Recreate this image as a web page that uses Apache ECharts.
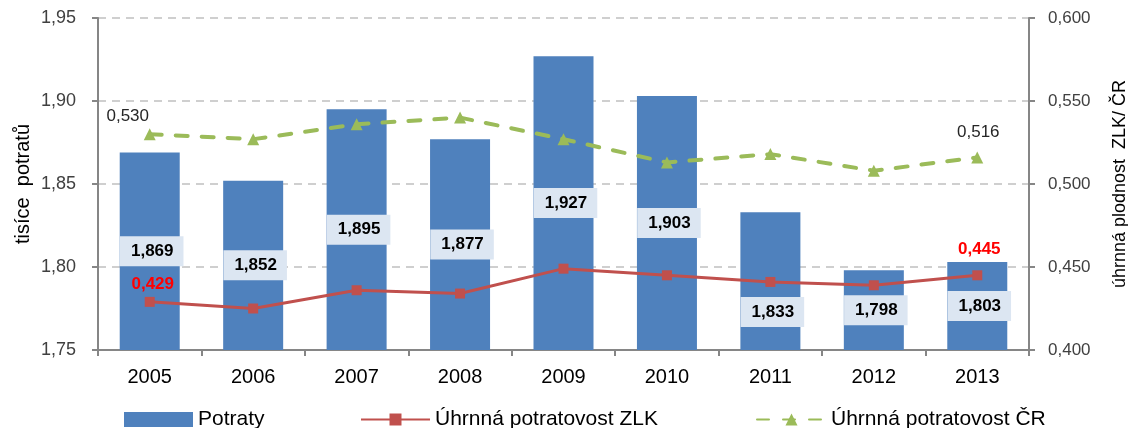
<!DOCTYPE html>
<html>
<head>
<meta charset="utf-8">
<script src="https://cdn.jsdelivr.net/npm/echarts@6/dist/echarts.min.js"></script>
<style>
html, body { margin: 0; padding: 0; background: #fff; }
#chart { width: 1128px; height: 428px; }
</style>
</head>
<body>
<div id="chart"></div>
<script>
var years = ['2005', '2006', '2007', '2008', '2009', '2010', '2011', '2012', '2013'];
var potraty = [1.869, 1.852, 1.895, 1.877, 1.927, 1.903, 1.833, 1.798, 1.803];
var potratovostZLK = [0.429, 0.425, 0.436, 0.434, 0.449, 0.445, 0.441, 0.439, 0.445];
var potratovostCR = [0.530, 0.527, 0.536, 0.540, 0.527, 0.513, 0.518, 0.508, 0.516];
var leftTicks = [1.75, 1.80, 1.85, 1.90, 1.95];
var rightTicks = [0.400, 0.450, 0.500, 0.550, 0.600];

var FONT = 'Liberation Sans, Arial, sans-serif';

function czech(v, d) {
	return v.toFixed(d).replace('.', ',');
}

// bar data: labels sit in the middle of the bar, 2011 moved lower
var barData = potraty.map(function (v, i) {
	var item = { value: v };
	if (i == 6) item.label = { offset: [2, 31] };
	return item;
});

// only first and last point of the lines carry a label
var zlkData = potratovostZLK.map(function (v, i) {
	var item = { value: v };
	if (i == 0) item.label = { show: true, distance: 4, offset: [3, 0] };
	if (i == potratovostZLK.length - 1) item.label = { show: true, distance: 12, offset: [2, 0] };
	return item;
});
var crData = potratovostCR.map(function (v, i) {
	var item = { value: v };
	if (i == 0) item.label = { show: true, distance: 3, offset: [-22, 0] };
	if (i == potratovostCR.length - 1) item.label = { show: true, distance: 11, offset: [1, 0] };
	return item;
});

var chart = echarts.init(document.getElementById('chart'));

var legendBase = {
	top: 404,
	itemWidth: 69,
	itemHeight: 15,
	itemGap: 8,
	textStyle: { fontFamily: FONT, fontSize: 21, color: '#000' }
};

var option = {
	animation: false,
	textStyle: { fontFamily: FONT },
	grid: { left: 98, right: 99, top: 18, bottom: 78, outerBoundsMode: 'none', containLabel: false },
	legend: [
		Object.assign({ data: ['Potraty'], left: 119, icon: 'rect' }, legendBase),
		Object.assign({ data: ['Úhrnná potratovost ZLK'], left: 355 }, legendBase),
		Object.assign({ data: ['Úhrnná potratovost ČR'], left: 751 }, legendBase)
	],
	xAxis: {
		type: 'category',
		data: years,
		axisLine: { lineStyle: { color: '#868686', width: 2 } },
		axisTick: { show: true, length: 6, lineStyle: { color: '#868686', width: 2 } },
		axisLabel: { margin: 17, fontSize: 20, color: '#000', fontFamily: FONT }
	},
	yAxis: [
		{
			type: 'value',
			min: leftTicks[0],
			max: leftTicks[leftTicks.length - 1],
			interval: 0.05,
			name: 'tisíce  potratů',
			nameLocation: 'middle',
			nameGap: 65,
			nameMoveOverlap: false,
			nameRotate: 90,
			nameTextStyle: { fontSize: 20, color: '#000', fontFamily: FONT },
			axisLine: { show: true, lineStyle: { color: '#868686', width: 2 } },
			axisTick: { show: true, length: 6, lineStyle: { color: '#868686', width: 2 } },
			axisLabel: {
				margin: 22, fontSize: 18, color: '#404040', fontFamily: FONT,
				formatter: function (v) { return czech(v, 2); }
			},
			splitLine: { lineStyle: { color: '#c0c0c0', width: 1.5, type: [8, 6] } }
		},
		{
			type: 'value',
			min: rightTicks[0],
			max: rightTicks[rightTicks.length - 1],
			interval: 0.05,
			name: 'úhrnná plodnost  ZLK/ ČR',
			nameLocation: 'middle',
			nameGap: 82,
			nameMoveOverlap: false,
			nameRotate: 90,
			nameTextStyle: { fontSize: 18, color: '#000', fontFamily: FONT },
			axisLine: { show: true, lineStyle: { color: '#868686', width: 2 } },
			axisTick: { show: true, length: 6, lineStyle: { color: '#868686', width: 2 } },
			axisLabel: {
				margin: 19, fontSize: 17, color: '#404040', fontFamily: FONT,
				formatter: function (v) { return czech(v, 3); }
			},
			splitLine: { show: false }
		}
	],
	series: [
		{
			name: 'Potraty',
			type: 'bar',
			yAxisIndex: 0,
			barWidth: 60,
			data: barData,
			itemStyle: { color: '#4f81bd' },
			label: {
				show: true,
				position: 'inside',
				offset: [2, 0],
				fontFamily: FONT,
				fontSize: 17,
				fontWeight: 'bold',
				color: '#000',
				backgroundColor: '#dce6f2',
				padding: [7, 10, 6, 11],
				formatter: function (p) { return czech(p.value, 3); }
			}
		},
		{
			name: 'Úhrnná potratovost ZLK',
			type: 'line',
			yAxisIndex: 1,
			data: zlkData,
			symbol: 'rect',
			symbolSize: 10,
			itemStyle: { color: '#c0504d' },
			lineStyle: { color: '#c0504d', width: 3 },
			label: {
				show: false,
				position: 'top',
				fontFamily: FONT,
				fontSize: 17,
				fontWeight: 'bold',
				color: '#ff0000',
				formatter: function (p) { return czech(p.value, 3); }
			},
			z: 3
		},
		{
			name: 'Úhrnná potratovost ČR',
			type: 'line',
			yAxisIndex: 1,
			data: crData,
			symbol: 'triangle',
			symbolSize: 12,
			itemStyle: { color: '#9bbb59' },
			lineStyle: { color: '#9bbb59', width: 4, type: [12, 14], cap: 'round' },
			label: {
				show: false,
				position: 'top',
				fontFamily: FONT,
				fontSize: 17,
				color: '#262626',
				formatter: function (p) { return czech(p.value, 3); }
			},
			z: 3
		}
	]
};

chart.setOption(option);
</script>
</body>
</html>
